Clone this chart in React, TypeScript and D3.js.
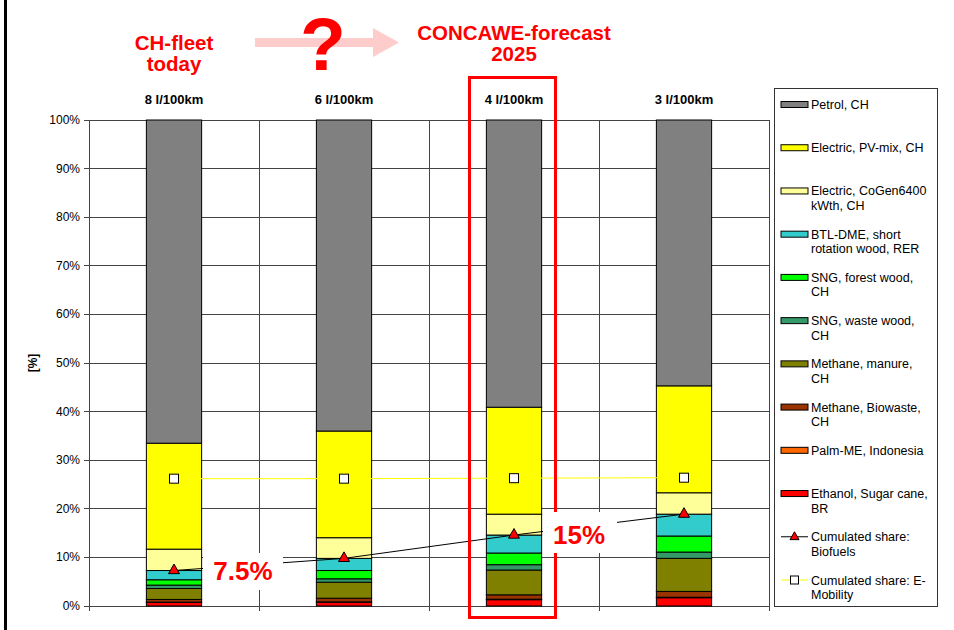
import React from "react";
import * as d3 from "d3";

// fuel-mix shares per fleet scenario, in %, bottom of stack first
const categories = ["8 l/100km", "6 l/100km", "4 l/100km", "3 l/100km"];
const ethanol = [0.75, 0.8, 1.3, 1.7];
const palmME = [0.05, 0.05, 0.1, 0.1];
const biowaste = [0.55, 0.75, 0.9, 1.2];
const manure = [2.25, 3.3, 5.1, 6.8];
const wasteWood = [0.7, 0.7, 1.1, 1.3];
const forestWood = [1.1, 1.7, 2.4, 3.3];
const btlDme = [1.9, 2.5, 3.7, 4.5];
const cogen = [4.4, 4.25, 4.3, 4.4];
const pvMix = [21.8, 21.95, 22.0, 22.0];
const petrol = [66.5, 64.0, 59.1, 54.7];

const yTicks = [0, 10, 20, 30, 40, 50, 60, 70, 80, 90, 100];

const series = [
  { key: "ethanol", values: ethanol, color: "#ff0000", label: ["Ethanol, Sugar cane,", "BR"] },
  { key: "palm", values: palmME, color: "#ff6600", label: ["Palm-ME, Indonesia"] },
  { key: "biowaste", values: biowaste, color: "#993300", label: ["Methane, Biowaste,", "CH"] },
  { key: "manure", values: manure, color: "#808000", label: ["Methane, manure,", "CH"] },
  { key: "waste", values: wasteWood, color: "#339966", label: ["SNG, waste wood,", "CH"] },
  { key: "forest", values: forestWood, color: "#00ff00", label: ["SNG, forest wood,", "CH"] },
  { key: "btl", values: btlDme, color: "#33cccc", label: ["BTL-DME, short", "rotation wood, RER"] },
  { key: "cogen", values: cogen, color: "#ffff99", label: ["Electric, CoGen6400", "kWth, CH"] },
  { key: "pv", values: pvMix, color: "#ffff00", label: ["Electric, PV-mix, CH"] },
  { key: "petrol", values: petrol, color: "#808080", label: ["Petrol, CH"] },
];

const bioKeys = ["ethanol", "palm", "biowaste", "manure", "waste", "forest", "btl"];
const eKeys = ["cogen", "pv"];

const FONT = "Arial, 'Liberation Sans', Helvetica, sans-serif";

export default function App() {
  const W = 954;
  const H = 630;
  const plot = { left: 89, right: 769, top: 120, bottom: 606 };

  const x = d3.scaleBand<string>().domain(categories).range([plot.left, plot.right]).padding(0);
  const y = d3.scaleLinear().domain([0, 100]).range([plot.bottom, plot.top]);
  const barW = x.bandwidth() * 0.325;

  const rows = categories.map((c, i) => {
    const r: any = { cat: c };
    series.forEach((s) => (r[s.key] = s.values[i]));
    return r;
  });
  const stacked = d3.stack<any>().keys(series.map((s) => s.key))(rows);

  const cx = (c: string) => (x(c) as number) + x.bandwidth() / 2;
  const bioCum = rows.map((r) => d3.sum(bioKeys, (k) => r[k]));
  const eCum = rows.map((r) => d3.sum(eKeys, (k) => r[k]));

  const cumLine = d3.line<number>().x((_, i) => cx(categories[i])).y((d) => y(d));

  const boundaries = d3.range(categories.length + 1).map((k) => plot.left + k * x.step());

  // legend layout
  const lg = { x: 774.5, y: 88.5, w: 163, h: 518 };
  const legendItems = [
    ...series.slice().reverse().map((s) => ({ type: "rect", color: s.color, label: s.label })),
    { type: "bio", color: "#ff0000", label: ["Cumulated share:", "Biofuels"] },
    { type: "emob", color: "#ffff00", label: ["Cumulated share: E-", "Mobility"] },
  ];
  const legendY = d3.scaleLinear().domain([0, legendItems.length - 1]).range([104.5, 580]);

  const tri = (px: number, py: number, s = 5.5) =>
    `M${px},${py - s}L${px + s},${py + s * 0.75}L${px - s},${py + s * 0.75}Z`;

  return (
    <svg
      width={W}
      height={H}
      style={{ position: "absolute", left: 0, top: 0, background: "#fff" }}
      fontFamily={FONT}
    >
      <rect width={W} height={H} fill="#fff" />
      {/* left frame edge */}
      <rect x={4} y={0} width={3} height={H} fill="#000" />

      {/* headline */}
      <g fill="#ff0000" fontWeight="bold" textAnchor="middle" fontSize={20.5}>
        <text x={174} y={49.5}>CH-fleet</text>
        <text x={174} y={70.5}>today</text>
        <text x={514} y={40}>CONCAWE-forecast</text>
        <text x={514} y={61}>2025</text>
      </g>
      <path d="M255,38H373V28L399,42.5L373,57V47H255Z" fill="#ffcccc" />
      <text x={323} y={70} fill="#ff0000" fontWeight="bold" fontSize={75} textAnchor="middle">
        ?
      </text>

      {/* category labels */}
      {categories.map((c) => (
        <text key={c} x={cx(c)} y={104} textAnchor="middle" fontWeight="bold" fontSize={13}>
          {c}
        </text>
      ))}

      {/* grid */}
      <g stroke="#444" strokeWidth={1} shapeRendering="crispEdges">
        {yTicks.map((t) => (
          <line key={t} x1={plot.left} x2={plot.right} y1={y(t)} y2={y(t)} />
        ))}
        {boundaries.map((b, k) => (
          <line key={k} x1={b} x2={b} y1={plot.top} y2={plot.bottom + 5} />
        ))}
        {yTicks.map((t) => (
          <line key={"t" + t} x1={plot.left - 5} x2={plot.left} y1={y(t)} y2={y(t)} />
        ))}
      </g>

      {/* y tick labels */}
      {yTicks.map((t) => (
        <text key={t} x={80} y={y(t) + 4} textAnchor="end" fontSize={12}>
          {t}%
        </text>
      ))}
      <text
        transform={`translate(37,${(plot.top + plot.bottom) / 2}) rotate(-90)`}
        textAnchor="middle"
        fontWeight="bold"
        fontSize={12}
      >
        [%]
      </text>

      {/* stacked bars */}
      {stacked.map((layer, li) => (
        <g key={layer.key} fill={series[li].color} stroke="#000" strokeWidth={1}>
          {layer.map((d, i) => (
            <rect
              key={i}
              x={cx(categories[i]) - barW / 2}
              y={y(d[1])}
              width={barW}
              height={Math.max(0, y(d[0]) - y(d[1]))}
            />
          ))}
        </g>
      ))}

      {/* cumulated lines */}
      <path d={cumLine(eCum) as string} fill="none" stroke="#ffff00" strokeWidth={1} />
      <path d={cumLine(bioCum) as string} fill="none" stroke="#000" strokeWidth={1} />
      {eCum.map((v, i) => (
        <rect
          key={i}
          x={cx(categories[i]) - 4.5}
          y={y(v) - 4.5}
          width={9}
          height={9}
          fill="#fff"
          stroke="#000"
        />
      ))}
      {bioCum.map((v, i) => (
        <path key={i} d={tri(cx(categories[i]), y(v) - 1)} fill="#ff0000" stroke="#000" />
      ))}

      {/* 7.5% annotation */}
      <rect x={203} y={553} width={80} height={37} fill="#fff" />
      <text x={243} y={580} fill="#ff0000" fontWeight="bold" fontSize={26} textAnchor="middle">
        7.5%
      </text>

      {/* highlight box for forecast */}
      <rect x={469.5} y={77.5} width={86} height={540} fill="none" stroke="#ff0000" strokeWidth={3} />

      {/* 15% annotation */}
      <rect x={543} y={512} width={74} height={41} fill="#fff" />
      <text x={579} y={544} fill="#ff0000" fontWeight="bold" fontSize={26} textAnchor="middle">
        15%
      </text>

      {/* legend */}
      <rect x={lg.x} y={lg.y} width={lg.w} height={lg.h} fill="#fff" stroke="#333" />
      {legendItems.map((it, i) => {
        const ly = legendY(i);
        return (
          <g key={i}>
            {it.type === "rect" && (
              <rect x={781} y={ly - 3} width={27} height={6} fill={it.color} stroke="#000" />
            )}
            {it.type === "bio" && (
              <>
                <line x1={781} x2={808} y1={ly} y2={ly} stroke="#000" />
                <path d={tri(794.5, ly - 0.5, 4.5)} fill="#ff0000" stroke="#000" />
              </>
            )}
            {it.type === "emob" && (
              <>
                <line x1={781} x2={808} y1={ly} y2={ly} stroke="#ffff00" />
                <rect x={790.5} y={ly - 4} width={8} height={8} fill="#fff" stroke="#000" />
              </>
            )}
            {it.label.map((l, j) => (
              <text key={j} x={811} y={ly + 4.5 + j * 14.5} fontSize={12.5}>
                {l}
              </text>
            ))}
          </g>
        );
      })}
    </svg>
  );
}
